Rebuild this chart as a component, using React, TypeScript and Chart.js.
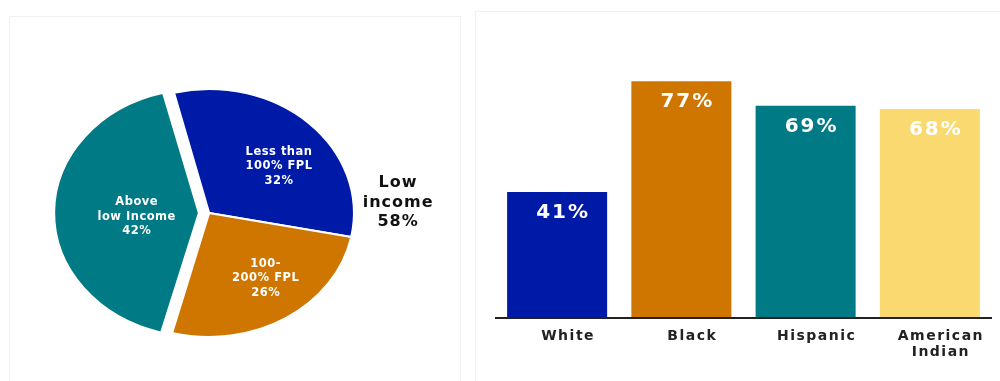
import React, { useEffect, useRef } from "react";
import { Chart, registerables } from "chart.js";

Chart.register(...registerables);

// ---- Data ----
const pieLabels = ["Less than|100% FPL", "100-|200% FPL", "Above|low Income"];
const pieValues = [32, 26, 42];
const pieColors = ["#001aa8", "#cf7600", "#007a84"];
const pieOffsets = [0, 0, 34];
const lowIncomeText = ["Low", "income"];

const barCategories = ["White", "Black", "Hispanic", "American|Indian"];
const barValues = [41, 77, 69, 68];
const barColors = ["#001aa8", "#cf7600", "#007a84", "#fada70"];

// ---- Styling helpers ----
const FONT = "'DejaVu Sans', Verdana, sans-serif";
const SX = 1.17; // horizontal stretch of the pie into an ellipse
const pieLabelFrac = [0.62, 0.62, 0.43];
const pieLabelNudge = [
  [8, 9],
  [9, 0],
  [0, 4],
];

const ellipsePlugin = {
  id: "ellipsePie",
  beforeDatasetsDraw(chart: any) {
    const ctx = chart.ctx;
    const meta = chart.getDatasetMeta(0);
    const a0 = meta.data[0];
    ctx.save();
    ctx.translate(a0.x, a0.y);
    ctx.scale(SX, 1);
    ctx.translate(-a0.x, -a0.y);
    meta.data.forEach((arc: any) => {
      const off = (arc.options.offset || 0) / 4;
      if (off) {
        const fix = 1 - Math.sin(Math.min(Math.PI, arc.circumference));
        arc._origR = arc.outerRadius;
        arc.outerRadius = arc.outerRadius - off * fix;
      }
    });
  },
  afterDatasetsDraw(chart: any) {
    const ctx = chart.ctx;
    ctx.restore();
    const meta = chart.getDatasetMeta(0);
    meta.data.forEach((arc: any) => {
      if (arc._origR !== undefined) {
        arc.outerRadius = arc._origR;
        delete arc._origR;
      }
    });
    ctx.save();
    ctx.fillStyle = "#ffffff";
    ctx.font = `bold 11.5px ${FONT}`;
    ctx.textAlign = "center";
    ctx.textBaseline = "middle";
    (ctx as any).letterSpacing = "0.5px";
    meta.data.forEach((arc: any, i: number) => {
      const mid = (arc.startAngle + arc.endAngle) / 2;
      const off = (arc.options.offset || 0) / 4;
      const r = arc.outerRadius * pieLabelFrac[i];
      const x = arc.x + Math.cos(mid) * (r + off) * SX + pieLabelNudge[i][0];
      const y = arc.y + Math.sin(mid) * (r + off) + pieLabelNudge[i][1];
      const lines = [...pieLabels[i].split("|"), pieValues[i] + "%"];
      lines.forEach((ln, k) => {
        ctx.fillText(ln, x, y + (k - (lines.length - 1) / 2) * 14.5);
      });
    });
    // "Low income" annotation (sum of the two low-income slices)
    const a0 = meta.data[0];
    const lx = a0.x + a0.outerRadius * SX + 44;
    const lines = [...lowIncomeText, pieValues[0] + pieValues[1] + "%"];
    ctx.fillStyle = "#111111";
    ctx.font = `bold 16px ${FONT}`;
    (ctx as any).letterSpacing = "1px";
    lines.forEach((ln, k) => {
      ctx.fillText(ln, lx, a0.y - 30 + k * 19.5);
    });
    ctx.restore();
  },
};

const barPlugin = {
  id: "barDecor",
  afterDatasetsDraw(chart: any) {
    const ctx = chart.ctx;
    const area = chart.chartArea;
    const meta = chart.getDatasetMeta(0);
    ctx.save();
    // baseline
    ctx.fillStyle = "#222222";
    ctx.fillRect(area.left, area.bottom - 1, area.right - area.left, 2);
    // value labels
    ctx.fillStyle = "#ffffff";
    ctx.font = `bold 20px ${FONT}`;
    ctx.textAlign = "center";
    ctx.textBaseline = "middle";
    (ctx as any).letterSpacing = "2px";
    meta.data.forEach((bar: any, i: number) => {
      ctx.fillText(barValues[i] + "%", bar.x + 6, bar.y + 21);
    });
    // category labels
    const xs = chart.scales.x;
    ctx.fillStyle = "#222222";
    ctx.font = `bold 14px ${FONT}`;
    (ctx as any).letterSpacing = "1.5px";
    barCategories.forEach((cat, i) => {
      const px = xs.getPixelForValue(i) + 11;
      cat.split("|").forEach((ln, k) => {
        ctx.fillText(ln, px, area.bottom + 18 + k * 16);
      });
    });
    ctx.restore();
  },
};

export default function App() {
  const pieRef = useRef<HTMLCanvasElement>(null);
  const barRef = useRef<HTMLCanvasElement>(null);

  useEffect(() => {
    const pie = new Chart(pieRef.current!, {
      type: "pie",
      data: {
        labels: pieLabels.map((l) => l.replace("|", " ")),
        datasets: [
          {
            data: pieValues,
            backgroundColor: pieColors,
            borderColor: "#ffffff",
            borderWidth: 2,
            offset: pieOffsets,
            radius: 124,
            rotation: -14,
            clip: false,
          } as any,
        ],
      },
      options: {
        responsive: false,
        animation: false,
        events: [],
        rotation: -14,
        layout: { padding: { left: 0, right: 52, top: 45, bottom: 0 } },
        plugins: { legend: { display: false }, tooltip: { enabled: false } },
      } as any,
      plugins: [ellipsePlugin],
    });

    const bar = new Chart(barRef.current!, {
      type: "bar",
      data: {
        labels: barCategories.map((c) => c.replace("|", " ")),
        datasets: [
          {
            data: barValues,
            backgroundColor: barColors,
            borderWidth: 0,
            barPercentage: 0.805,
            categoryPercentage: 1,
          },
        ],
      },
      options: {
        responsive: false,
        animation: false,
        events: [],
        layout: { padding: { left: 15, right: 8, top: 72, bottom: 63 } },
        scales: {
          x: { display: false },
          y: { display: false, min: 0, max: 80 },
        },
        plugins: { legend: { display: false }, tooltip: { enabled: false } },
      } as any,
      plugins: [barPlugin],
    });

    return () => {
      pie.destroy();
      bar.destroy();
    };
  }, []);

  return (
    <div
      style={{
        position: "absolute",
        left: 0,
        top: 0,
        width: 1000,
        height: 381,
        background: "#ffffff",
        overflow: "hidden",
      }}
    >
      <div
        style={{
          position: "absolute",
          left: 9,
          top: 16,
          width: 450,
          height: 380,
          border: "1px solid #f0f0f0",
        }}
      />
      <div
        style={{
          position: "absolute",
          left: 475,
          top: 11,
          width: 540,
          height: 380,
          border: "1px solid #f0f0f0",
        }}
      />
      <canvas
        ref={pieRef}
        width={470}
        height={381}
        style={{ position: "absolute", left: 0, top: 0 }}
      />
      <canvas
        ref={barRef}
        width={520}
        height={381}
        style={{ position: "absolute", left: 480, top: 0 }}
      />
    </div>
  );
}
